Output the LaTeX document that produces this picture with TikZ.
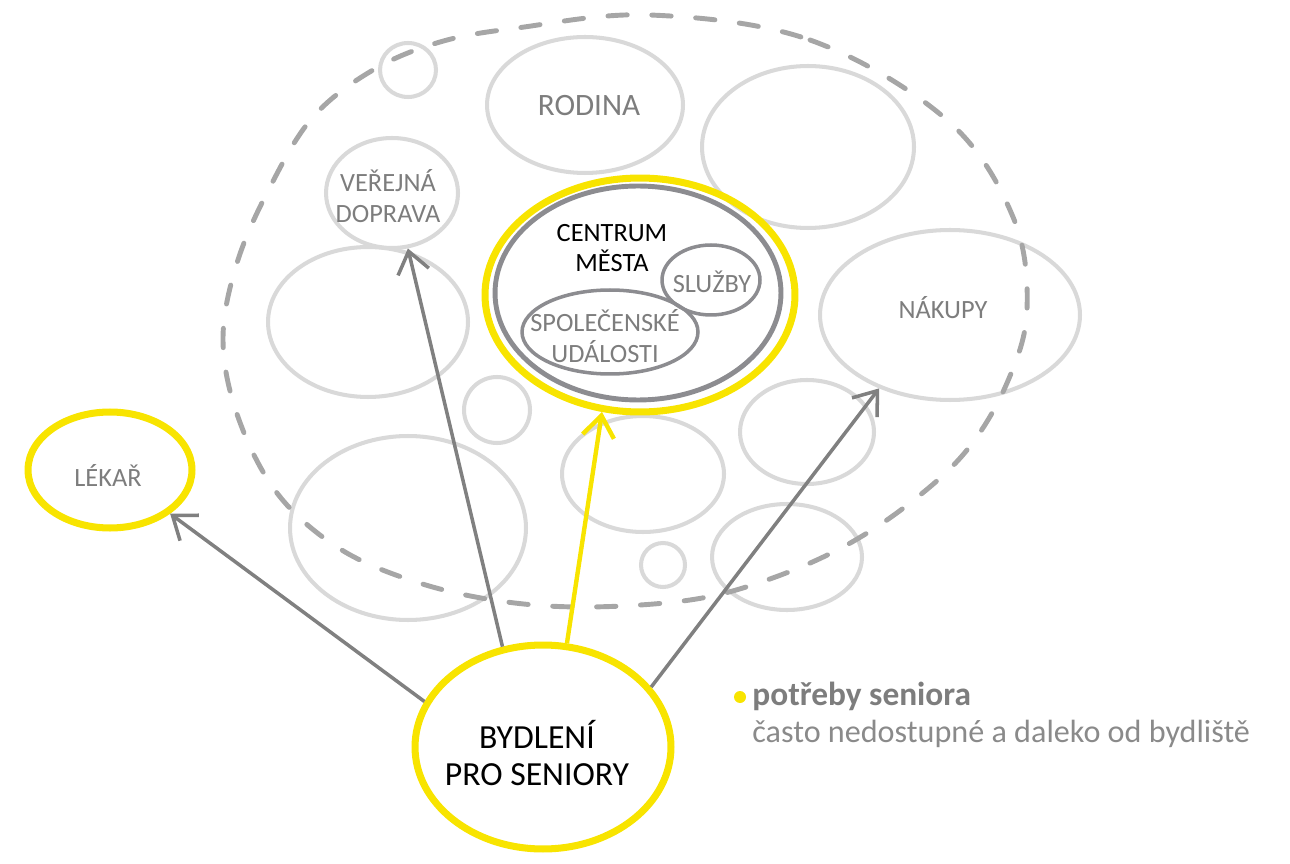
\documentclass[tikz,border=0pt]{standalone}
\usepackage{fontspec}
\setmainfont{Carlito}
\usetikzlibrary{shapes.geometric,arrows.meta}
\definecolor{ylw}{RGB}{248,228,0}
\definecolor{lgray}{RGB}{217,217,217}
\definecolor{dgray}{RGB}{166,166,166}
\definecolor{agray}{RGB}{128,128,128}
\definecolor{cgray}{RGB}{140,140,144}
\definecolor{tgray}{RGB}{125,125,125}
\definecolor{lgtext}{RGB}{138,138,138}
\begin{document}
\begin{tikzpicture}[x=0.02cm,y=-0.02cm,
  ell/.style={ellipse,draw=lgray,line width=2.3pt,inner sep=0pt},
  yel/.style={ellipse,draw=ylw,line width=4pt,inner sep=0pt},
  sub/.style={ellipse,draw=cgray,line width=2pt,inner sep=0pt},
  txt/.style={text=tgray,align=center,inner sep=0pt,font=\fontsize{15}{18}\selectfont},
  arr/.style={draw=agray,line width=2pt,line join=round,-{Straight Barb[length=12pt,width=18pt]}},
  yarr/.style={arr,draw=ylw,line width=2.5pt},
  outline/.style={draw=dgray,line width=2.8pt,dash pattern=on 11pt off 14pt,line cap=round}
]
\useasboundingbox (0,0) rectangle (1290,864);

% light grey bubbles
\node[ell,minimum width=1.12cm,minimum height=1.08cm] (s1) at (408,70) {};
\node[ell,minimum width=3.92cm,minimum height=2.72cm] (rod) at (585,105) {};
\node[txt,font=\fontsize{17.7}{21}\selectfont] (rodtxt) at (589,106) {RODINA};
\node[ell,minimum width=4.24cm,minimum height=3.24cm] (tr) at (808,147) {};
\node[ell,minimum width=2.64cm,minimum height=2.2cm] (ver) at (392,193) {};
\node[txt] (vertxt) at (388,196) {VEŘEJNÁ\\DOPRAVA};
\node[ell,minimum width=4.0cm,minimum height=3.0cm] (le) at (368,322) {};
\node[ell,minimum width=4.72cm,minimum height=3.68cm] (bl) at (408,528) {};
\node[ell,minimum width=1.32cm,minimum height=1.32cm] (s2) at (497,410) {};
\node[ell,minimum width=3.24cm,minimum height=2.32cm] (me) at (643,474) {};
\node[ell,minimum width=0.88cm,minimum height=0.88cm] (s3) at (663,565) {};
\node[ell,minimum width=2.68cm,minimum height=2.08cm] (e4) at (807,432) {};
\node[ell,minimum width=3.0cm,minimum height=2.12cm] (e5) at (787,557) {};
\node[ell,minimum width=5.2cm,minimum height=3.4cm] (nak) at (950,315) {};
\node[txt] (naktxt) at (943,308) {NÁKUPY};

% dashed outline
\draw[outline] plot[smooth cycle,tension=0.6] coordinates {
  (650,15) (810,40) (947,120) (1013,217) (1027,310) (1007,383) (967,450)
  (910,503) (843,547) (767,580) (690,600) (583,607) (493,600) (410,580)
  (337,547) (277,493) (238,417) (223,340) (237,263) (270,187) (313,117)
  (373,70) (440,42) (517,28)};

% city centre
\node[yel,minimum width=6.2cm,minimum height=4.68cm] (cen) at (640,295) {};
\node[ellipse,draw=cgray,line width=2.8pt,inner sep=0pt,minimum width=5.72cm,minimum height=4.28cm] (ceni) at (638,293) {};
\node[txt,text=black,font=\fontsize{15}{17}\selectfont] (centxt) at (612,248) {CENTRUM\\MĚSTA};
\node[sub,minimum width=1.96cm,minimum height=1.4cm] (slu) at (711,280) {};
\node[txt] (slutxt) at (712,282) {SLUŽBY};
\node[sub,minimum width=3.52cm,minimum height=1.68cm] (spo) at (610,332) {};
\node[txt] (spotxt) at (605,336) {SPOLEČENSKÉ\\UDÁLOSTI};

% doctor and housing
\node[yel,minimum width=3.28cm,minimum height=2.32cm] (lek) at (110,470) {};
\node[txt] (lektxt) at (108,475) {LÉKAŘ};
\node[yel,minimum width=5.12cm,minimum height=4.08cm] (byd) at (543,747) {};
\node[txt,text=black,font=\fontsize{19.2}{21}\selectfont] (bydtxt) at (537,753) {BYDLENÍ\\PRO SENIORY};

% arrows
\draw[arr] (byd.159) -- (lek.-36);
\draw[arr] (byd.112) -- (ver.-74);
\draw[yarr] (byd.77) -- (cen.-108);
\draw[arr] (byd.29) -- (nak.-134);

% legend
\node[circle,fill=ylw,inner sep=0pt,minimum size=0.24cm] (dot) at (740,697) {};
\node[anchor=base west,text=tgray,font=\fontsize{19}{23}\selectfont\bfseries,inner sep=0pt] (leg1) at (752,705) {potřeby seniora};
\node[anchor=base west,text=lgtext,font=\fontsize{18.3}{23}\selectfont,inner sep=0pt] (leg2) at (752,742) {často nedostupné a daleko od bydliště};
\end{tikzpicture}
\end{document}
